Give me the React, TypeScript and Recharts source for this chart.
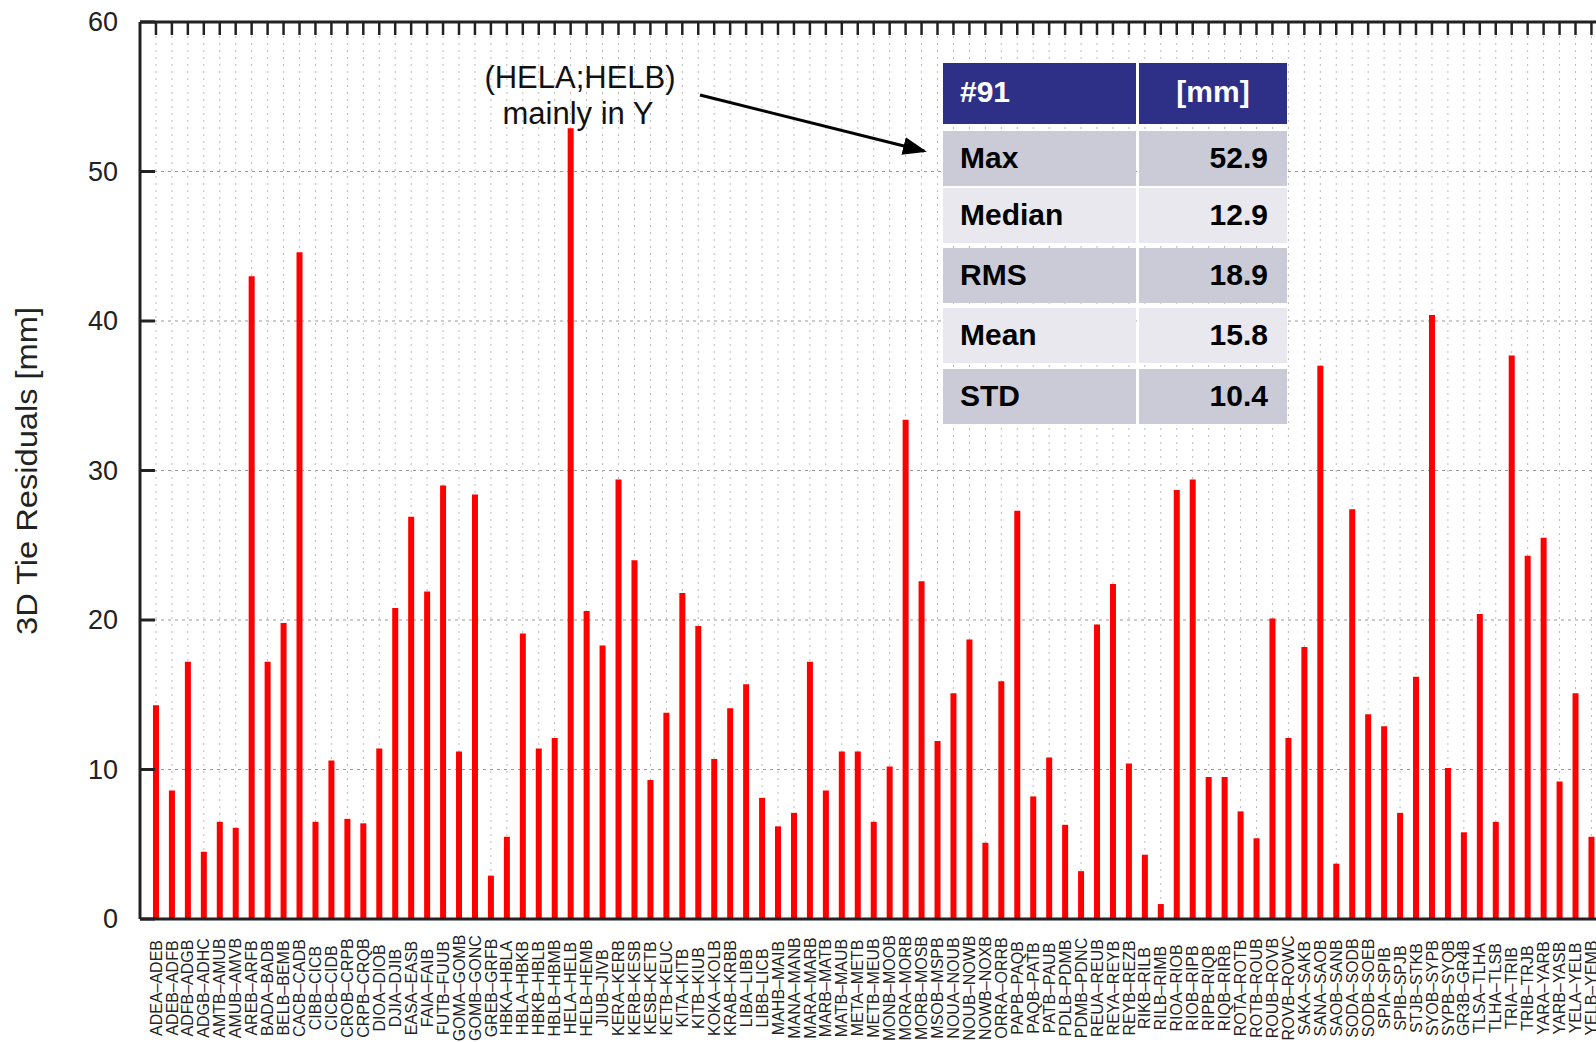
import { Bar, BarChart, CartesianGrid, XAxis, YAxis } from "recharts"

// station pairs, one per bar
const pairs = [
  "ADEA–ADEB", "ADEB–ADFB", "ADFB–ADGB", "ADGB–ADHC", "AMTB–AMUB", "AMUB–AMVB", "AREB–ARFB",
  "BADA–BADB", "BELB–BEMB", "CACB–CADB", "CIBB–CICB", "CICB–CIDB", "CROB–CRPB", "CRPB–CRQB",
  "DIOA–DIOB", "DJIA–DJIB", "EASA–EASB", "FAIA–FAIB", "FUTB–FUUB", "GOMA–GOMB", "GOMB–GONC",
  "GREB–GRFB", "HBKA–HBLA", "HBLA–HBKB", "HBKB–HBLB", "HBLB–HBMB", "HELA–HELB", "HELB–HEMB",
  "JIUB–JIVB", "KERA–KERB", "KERB–KESB", "KESB–KETB", "KETB–KEUC", "KITA–KITB", "KITB–KIUB",
  "KOKA–KOLB", "KRAB–KRBB", "LIBA–LIBB", "LIBB–LICB", "MAHB–MAIB", "MANA–MANB", "MARA–MARB",
  "MARB–MATB", "MATB–MAUB", "META–METB", "METB–MEUB", "MONB–MOOB", "MORA–MORB", "MORB–MOSB",
  "MSOB–MSPB", "NOUA–NOUB", "NOUB–NOWB", "NOWB–NOXB", "ORRA–ORRB", "PAPB–PAQB", "PAQB–PATB",
  "PATB–PAUB", "PDLB–PDMB", "PDMB–PDNC", "REUA–REUB", "REYA–REYB", "REYB–REZB", "RIKB–RILB",
  "RILB–RIMB", "RIOA–RIOB", "RIOB–RIPB", "RIPB–RIQB", "RIQB–RIRB", "ROTA–ROTB", "ROTB–ROUB",
  "ROUB–ROVB", "ROVB–ROWC", "SAKA–SAKB", "SANA–SAOB", "SAOB–SANB", "SODA–SODB", "SODB–SOEB",
  "SPIA–SPIB", "SPIB–SPJB", "STJB–STKB", "SYOB–SYPB", "SYPB–SYQB", "GR3B–GR4B", "TLSA–TLHA",
  "TLHA–TLSB", "TRIA–TRIB", "TRIB–TRJB", "YARA–YARB", "YARB–YASB", "YELA–YELB", "YELB–YEMB",
]

// 3D tie residuals [mm]
const residuals = [
  14.3, 8.6, 17.2, 4.5, 6.5, 6.1, 43.0, 17.2, 19.8, 44.6, 6.5, 10.6, 6.7, 6.4,
  11.4, 20.8, 26.9, 21.9, 29.0, 11.2, 28.4, 2.9, 5.5, 19.1, 11.4, 12.1, 52.9, 20.6,
  18.3, 29.4, 24.0, 9.3, 13.8, 21.8, 19.6, 10.7, 14.1, 15.7, 8.1, 6.2, 7.1, 17.2,
  8.6, 11.2, 11.2, 6.5, 10.2, 33.4, 22.6, 11.9, 15.1, 18.7, 5.1, 15.9, 27.3, 8.2,
  10.8, 6.3, 3.2, 19.7, 22.4, 10.4, 4.3, 1.0, 28.7, 29.4, 9.5, 9.5, 7.2, 5.4,
  20.1, 12.1, 18.2, 37.0, 3.7, 27.4, 13.7, 12.9, 7.1, 16.2, 40.4, 10.1, 5.8, 20.4,
  6.5, 37.7, 24.3, 25.5, 9.2, 15.1, 5.5,
]

const yTicks = [0, 10, 20, 30, 40, 50, 60]

// summary table
const statNames = ["Max", "Median", "RMS", "Mean", "STD"]
const statValues = ["52.9", "12.9", "18.9", "15.8", "10.4"]

const data = residuals.map((v, i) => ({ idx: i + 1, name: pairs[i], value: v }))
const xTicks = data.map((d) => d.idx)

const FONT = "'Liberation Sans', Arial, Helvetica, sans-serif"
const CHART_W = 1620
const AXIS_X = 140
const PLOT_W = 92 * 15.95

function XTick(props: any) {
  const { x, payload } = props
  const name = pairs[payload.value - 1]
  return (
    <text
      transform={`translate(${x},988) rotate(-90)`}
      textAnchor="middle"
      dy="0.35em"
      fontSize={16}
      fill="#222"
      fontFamily={FONT}
    >
      {name}
    </text>
  )
}

function YTick(props: any) {
  const { y, payload } = props
  return (
    <g>
      <line x1={AXIS_X} x2={AXIS_X + 15} y1={y} y2={y} stroke="#222" strokeWidth={3} />
      <text x={118} y={y} dy="0.35em" textAnchor="end" fontSize={27} fill="#222" fontFamily={FONT}>
        {payload.value}
      </text>
    </g>
  )
}

function StatsTable() {
  const left = 943
  const mid = 1136
  const mid2 = 1139
  const right = 1287
  const rowTops = [131, 188, 248, 308, 369]
  const rowH = 55
  return (
    <g fontFamily={FONT} fontWeight="bold" fontSize={30}>
      <rect x={left} y={63} width={mid - left} height={61} fill="#2e3088" />
      <rect x={mid2} y={63} width={right - mid2} height={61} fill="#2e3088" />
      <text x={960} y={102} fill="#fff">#91</text>
      <text x={(mid2 + right) / 2} y={102} fill="#fff" textAnchor="middle">[mm]</text>
      {statNames.map((n, i) => {
        const fill = i % 2 === 0 ? "#cbcbd8" : "#e8e8ee"
        const top = rowTops[i]
        return (
          <g key={n}>
            <rect x={left} y={top} width={mid - left} height={rowH} fill={fill} />
            <rect x={mid2} y={top} width={right - mid2} height={rowH} fill={fill} />
            <text x={960} y={top + rowH / 2 + 9} fill="#000">{n}</text>
            <text x={1268} y={top + rowH / 2 + 9} fill="#000" textAnchor="end">{statValues[i]}</text>
          </g>
        )
      })}
    </g>
  )
}

export default function App() {
  return (
    <div
      style={{
        position: "fixed",
        left: 0,
        top: 0,
        width: 1596,
        height: 1042,
        overflow: "hidden",
        background: "#fff",
      }}
    >
      <BarChart
        width={CHART_W}
        height={1042}
        data={data}
        margin={{ top: 22, right: CHART_W - AXIS_X - PLOT_W, bottom: 0, left: 0 }}
      >
        <CartesianGrid vertical={false} stroke="#999" strokeDasharray="3 4" />
        <CartesianGrid horizontal={false} stroke="#bbb" strokeDasharray="2 5" />
        <XAxis
          dataKey="idx"
          type="number"
          domain={[0, 92]}
          ticks={xTicks}
          interval={0}
          height={123}
          tickLine={false}
          axisLine={{ stroke: "#222", strokeWidth: 3 }}
          tick={<XTick />}
        />
        <XAxis
          xAxisId="top"
          dataKey="idx"
          type="number"
          orientation="top"
          mirror
          domain={[0, 92]}
          ticks={xTicks}
          interval={0}
          tickSize={13}
          tickLine={{ stroke: "#222", strokeWidth: 2.5 }}
          axisLine={{ stroke: "#222", strokeWidth: 3 }}
          tick={() => <g />}
        />
        <YAxis
          type="number"
          domain={[0, 60]}
          ticks={yTicks}
          interval={0}
          width={AXIS_X}
          tickLine={false}
          axisLine={{ stroke: "#222", strokeWidth: 3 }}
          tick={<YTick />}
        />
        <Bar dataKey="value" fill="#ff0000" barSize={6} isAnimationActive={false} />
      </BarChart>

      <svg
        width={1596}
        height={1042}
        style={{ position: "absolute", left: 0, top: 0, pointerEvents: "none" }}
      >
        <defs>
          <marker id="arrow" markerWidth="8" markerHeight="6" refX="7" refY="3" orient="auto" markerUnits="strokeWidth">
            <path d="M0,0 L8,3 L0,6 Z" fill="#000" />
          </marker>
        </defs>
        <text
          transform="translate(27,471) rotate(-90)"
          textAnchor="middle"
          dy="0.35em"
          fontSize={29}
          textLength={328}
          lengthAdjust="spacingAndGlyphs"
          fill="#222"
          fontFamily={FONT}
        >
          3D Tie Residuals [mm]
        </text>
        <g fontFamily={FONT} fontSize={31} fill="#111" textAnchor="middle">
          <text x={580} y={88}>(HELA;HELB)</text>
          <text x={578} y={124}>mainly in Y</text>
        </g>
        <line x1={700} y1={95} x2={924} y2={151} stroke="#000" strokeWidth={3} markerEnd="url(#arrow)" />
        <StatsTable />
      </svg>
    </div>
  )
}
